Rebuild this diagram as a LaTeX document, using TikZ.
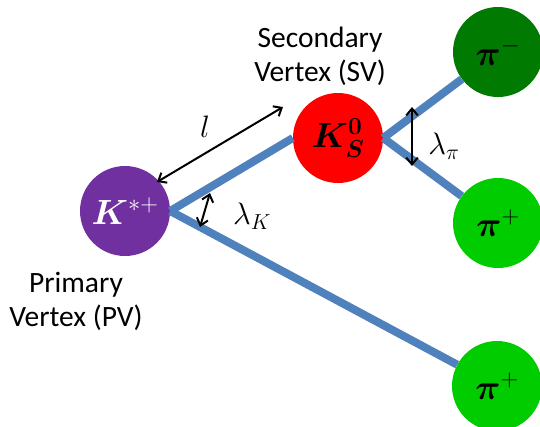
\RequirePackage{fix-cm}
\documentclass[tikz,border=0pt]{standalone}
\usepackage{amsmath,amssymb,bm}
\usepackage{fontspec}
\setsansfont{Carlito}
\usepackage{xcolor}
\usetikzlibrary{arrows.meta,positioning}

\definecolor{kstarpurple}{HTML}{7030A0}
\definecolor{kshortred}{HTML}{FF0000}
\definecolor{pimgreen}{HTML}{007A00}
\definecolor{pipgreen}{HTML}{00CC00}
\definecolor{trackblue}{HTML}{4F81BD}

\begin{document}
\begin{tikzpicture}[x=1pt,y=-1pt,>={Straight Barb[angle=80:9pt]},
  vtx/.style={circle,minimum size=90pt,inner sep=0pt,font=\fontsize{35}{40}\selectfont},
  trk/.style={line width=8pt,draw=trackblue},
  dist/.style={<->,line width=2pt},
  lbl/.style={font=\sffamily\fontsize{29.5}{34}\selectfont,align=center},
  sym/.style={font=\fontsize{31}{36}\selectfont}]
  \useasboundingbox (0,0) rectangle (540,426);
  % Decay vertices and daughters
  \node[vtx,fill=kstarpurple,text=white] (pv) at (125,211) {$\bm{K}^{*+}$};
  \node[vtx,fill=kshortred] (ks) at (338,138) {$\bm{K}_{\bm{S}}^{\bm{0}}$};
  \node[vtx,fill=pimgreen] (pim) at (498,52) {$\bm{\pi}^{-}$};
  \node[vtx,fill=pipgreen] (pip) at (498,223) {$\bm{\pi}^{+}$};
  \node[vtx,fill=pipgreen] (pib) at (497,386) {$\bm{\pi}^{+}$};
  % Tracks
  \draw[trk] (pv.east) -- (ks.west);
  \draw[trk] (pv.east) -- (pib);
  \draw[trk] (ks.east) -- (pim);
  \draw[trk] (ks.east) -- (pip);
  % Vertex labels
  \node[lbl] (svlbl) at (320,56) {Secondary\\Vertex (SV)};
  \node[lbl] (pvlbl) at (76,301) {Primary\\Vertex (PV)};
  % Flight length and opening angles
  \coordinate (lA) at (157,182);
  \coordinate (lB) at (283,107);
  \draw[dist] (lA) -- (lB);
  \node[sym] (llbl) at (205,127) {$l$};
  \coordinate (kA) at (210,193);
  \coordinate (kB) at (200,227);
  \draw[dist] (kA) -- (kB);
  \node[sym] (klbl) at (252,216) {$\lambda_K$};
  \coordinate (pA) at (412,107);
  \coordinate (pB) at (412,166);
  \draw[dist] (pA) -- (pB);
  \node[sym] (plbl) at (444,146) {$\lambda_\pi$};
\end{tikzpicture}
\end{document}
